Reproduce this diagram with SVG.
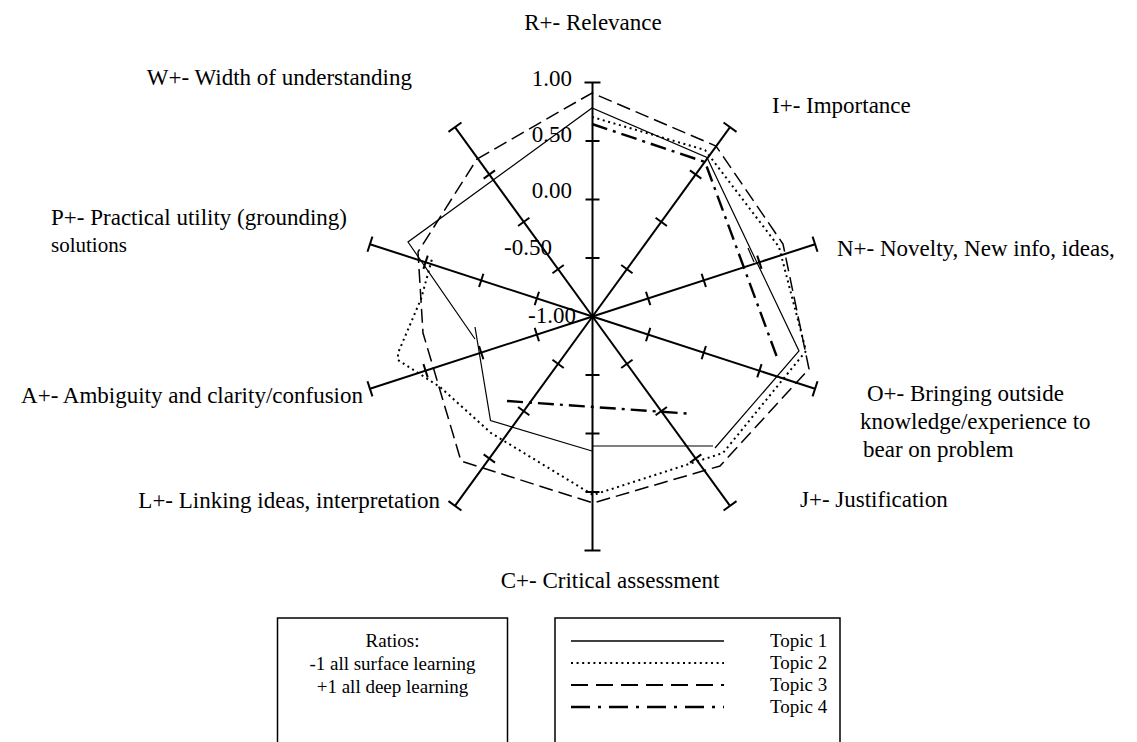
<svg xmlns="http://www.w3.org/2000/svg" width="1137" height="742" viewBox="0 0 1137 742">
<style>
text{font-family:"Liberation Serif","Times New Roman",serif;fill:#000}
.lab{font-size:23px}
.tk{font-size:23px;text-anchor:end}
.lg{font-size:19px}
.ax{stroke:#000;stroke-width:2;fill:none}
.t1{stroke:#000;stroke-width:1.2;fill:none}
.t2{stroke:#000;stroke-width:2;fill:none;stroke-dasharray:2 3.6}
.t3{stroke:#000;stroke-width:1.5;fill:none;stroke-dasharray:14 6}
.t4{stroke:#000;stroke-width:2.4;fill:none;stroke-dasharray:16 6 3 6}
.box{stroke:#000;stroke-width:1.5;fill:none}
</style>
<defs>
<g id="axis">
<line x1="0" y1="0" x2="0" y2="-234"/>
<line x1="-7" y1="-58.5" x2="7" y2="-58.5"/>
<line x1="-7" y1="-117" x2="7" y2="-117"/>
<line x1="-7" y1="-175.5" x2="7" y2="-175.5"/>
<line x1="-8" y1="-234" x2="8" y2="-234"/>
</g>
</defs>
<g id="axes" class="ax" transform="translate(592.5,316.5)">
<use href="#axis"/>
<use href="#axis" transform="rotate(36)"/>
<use href="#axis" transform="rotate(72)"/>
<use href="#axis" transform="rotate(108)"/>
<use href="#axis" transform="rotate(144)"/>
<use href="#axis" transform="rotate(180)"/>
<use href="#axis" transform="rotate(216)"/>
<use href="#axis" transform="rotate(252)"/>
<use href="#axis" transform="rotate(288)"/>
<use href="#axis" transform="rotate(324)"/>
</g>
<g id="tick-labels">
<text class="tk" x="572" y="86">1.00</text>
<text class="tk" x="572" y="142">0.50</text>
<text class="tk" x="572" y="198">0.00</text>
<text class="tk" x="552" y="255">-0.50</text>
<text class="tk" x="576" y="323">-1.00</text>
</g>
<g id="connectors">
<g id="topic1">
<polyline class="t1" points="475,339 408,242 592,108 707,157.5 799,351 715,448"/>
<line class="t1" x1="748" y1="248" x2="754" y2="262"/>
<polyline class="t1" points="713,446 592,446"/>
<polyline class="t1" points="592,451 490.5,420.5 475,327"/>
</g>
<g id="topic2">
<polyline class="t2" points="592,117 705,150 779,247 806,351 723,453 593,495 491,433 440,387 398,360 398,353 421,299 432,259"/>
</g>
<g id="topic3">
<polygon class="t3" points="477,159 592,93 716,146 783,244 809,369 720,466 593,503 461,461 423,333 418,252"/>
</g>
<g id="topic4">
<polyline class="t4" points="592,124 705,162 778,360"/>
<line class="t4" x1="507" y1="401" x2="687" y2="413.5"/>
</g>
</g>
<g id="label-R"><text class="lab" x="593" y="30" text-anchor="middle">R+- Relevance</text></g>
<g id="label-W"><text class="lab" x="412" y="85" text-anchor="end">W+- Width of understanding</text></g>
<g id="label-I"><text class="lab" x="772" y="113">I+- Importance</text></g>
<g id="label-N"><text class="lab" x="837" y="256">N+- Novelty, New info, ideas,</text></g>
<g id="label-O">
<text class="lab" x="867" y="401">O+- Bringing outside</text>
<text class="lab" x="860" y="429">knowledge/experience to</text>
<text class="lab" x="863" y="457">bear on problem</text>
</g>
<g id="label-J"><text class="lab" x="800" y="507">J+- Justification</text></g>
<g id="label-C"><text class="lab" x="610" y="588" text-anchor="middle">C+- Critical assessment</text></g>
<g id="label-L"><text class="lab" x="440" y="508" text-anchor="end">L+- Linking ideas, interpretation</text></g>
<g id="label-A"><text class="lab" x="363" y="403" text-anchor="end">A+- Ambiguity and clarity/confusion</text></g>
<g id="label-P">
<text class="lab" x="347" y="225" text-anchor="end">P+- Practical utility (grounding)</text>
<text class="lg" x="51" y="252" style="font-size:21px">solutions</text>
</g>
<g id="ratios-box">
<rect class="box" x="277.5" y="618" width="230" height="140"/>
<text class="lg" x="392.5" y="647" text-anchor="middle">Ratios:</text>
<text class="lg" x="392.5" y="670" text-anchor="middle">-1 all surface learning</text>
<text class="lg" x="392.5" y="693" text-anchor="middle">+1 all deep learning</text>
</g>
<g id="legend">
<rect class="box" x="555" y="618" width="285" height="140"/>
<line class="t1" x1="571" y1="641" x2="724" y2="641" style="stroke-width:1.5"/>
<line class="t2" x1="571" y1="663" x2="724" y2="663"/>
<line class="t3" x1="571" y1="685" x2="724" y2="685" style="stroke-dasharray:17 8;stroke-width:2"/>
<line class="t4" x1="571" y1="707" x2="724" y2="707" style="stroke-dasharray:19 8 3 8"/>
<text class="lg" x="770" y="647">Topic 1</text>
<text class="lg" x="770" y="669">Topic 2</text>
<text class="lg" x="770" y="691">Topic 3</text>
<text class="lg" x="770" y="713">Topic 4</text>
</g>
</svg>
